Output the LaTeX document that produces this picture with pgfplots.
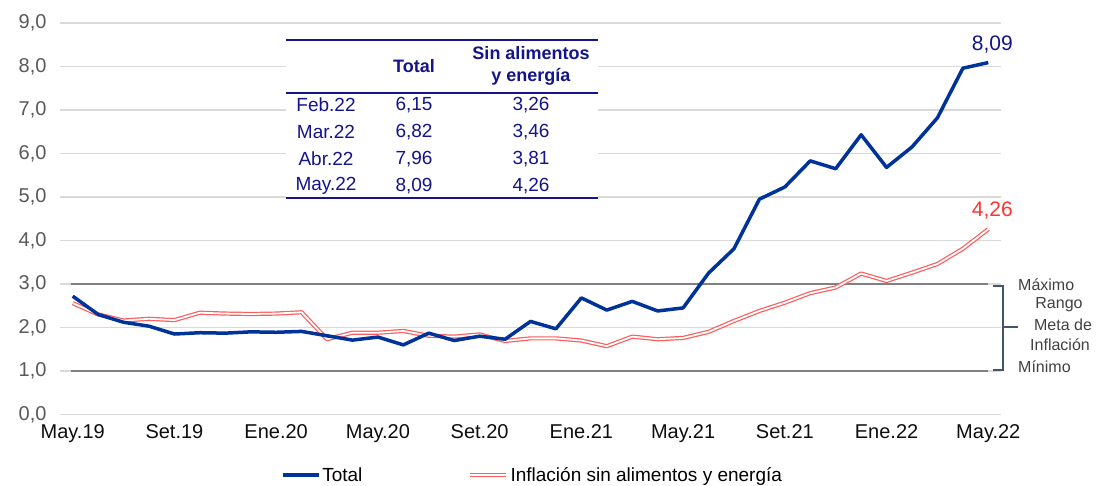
\documentclass[border=0pt]{standalone}
\usepackage{fontspec}
\setmainfont{Liberation Sans}
\usepackage{pgfplots}
\pgfplotsset{compat=1.18}
\definecolor{totalblue}{RGB}{0,51,153}
\definecolor{corered}{RGB}{255,90,90}
\definecolor{refgray}{RGB}{128,128,128}
\definecolor{gridgray}{RGB}{217,217,217}
\definecolor{ylab}{RGB}{89,89,89}
\definecolor{navy}{RGB}{20,20,140}
\definecolor{labred}{RGB}{255,51,51}
\definecolor{brack}{RGB}{68,84,106}
\definecolor{annot}{RGB}{64,64,64}
\pgfplotstableread{
x total core
0 2.72 2.56
1 2.30 2.30
2 2.12 2.16
3 2.03 2.20
4 1.85 2.17
5 1.88 2.34
6 1.87 2.32
7 1.90 2.31
8 1.89 2.32
9 1.91 2.35
10 1.81 1.73
11 1.71 1.88
12 1.78 1.88
13 1.60 1.92
14 1.87 1.81
15 1.70 1.79
16 1.80 1.84
17 1.73 1.69
18 2.14 1.75
19 1.97 1.75
20 2.68 1.70
21 2.40 1.57
22 2.60 1.79
23 2.38 1.73
24 2.45 1.76
25 3.25 1.90
26 3.81 2.15
27 4.95 2.38
28 5.23 2.57
29 5.83 2.79
30 5.65 2.92
31 6.43 3.24
32 5.68 3.07
33 6.15 3.26
34 6.82 3.46
35 7.96 3.81
36 8.09 4.26
}\datatable
\begin{document}
\begin{tikzpicture}[x=1pt,y=1pt]
\useasboundingbox (0,0) rectangle (1097,486);
\begin{axis}[
  at={(60pt,71.5pt)}, anchor=south west,
  scale only axis, width=941pt, height=391.5pt,
  xmin=-0.5, xmax=36.5, ymin=0, ymax=9,
  axis line style={draw=none},
  major tick length=0pt,
  clip=false,
  ymajorgrids, grid style={gridgray, line width=1.3pt},
  ytick={0,1,...,9},
  yticklabels={{0,0},{1,0},{2,0},{3,0},{4,0},{5,0},{6,0},{7,0},{8,0},{9,0}},
  yticklabel style={font=\fontsize{20}{24}\selectfont, text=ylab, xshift=-10pt},
  xtick={0,4,...,36},
  xticklabels={May.19,Set.19,Ene.20,May.20,Set.20,Ene.21,May.21,Set.21,Ene.22,May.22},
  xticklabel style={font=\fontsize{20}{24}\selectfont, text=black!95, yshift=-7pt},
  legend image code/.code={\draw[#1] (0pt,0pt) -- (36pt,0pt);},
  legend style={draw=none, fill=none, at={(0.502,-0.1545)}, anchor=center,
    font=\fontsize{19}{22}\selectfont, /tikz/every even column/.append style={column sep=104pt}},
  legend columns=2,
]
\addplot[refgray, line width=2pt, forget plot] coordinates {(-0.08,3) (36,3)};
\addplot[refgray, line width=2pt, forget plot] coordinates {(-0.08,1) (36,1)};
\addplot[corered, line width=1.2pt, double=white, double distance=1.8pt, line join=round, forget plot] table[x=x,y=core]{\datatable};
\addplot[totalblue, line width=3.5pt, line join=round] table[x=x,y=total]{\datatable};
\addlegendentry{Total}
\addlegendimage{corered, line width=1.2pt, double=white, double distance=1.8pt}
\addlegendentry{Inflación sin alimentos y energía}
\node[anchor=south, text=navy, font=\fontsize{21}{24}\selectfont, xshift=4pt, yshift=6pt] at (axis cs:36,8.09) {8,09};
\node[anchor=south, text=labred, font=\fontsize{21}{24}\selectfont, xshift=4pt, yshift=6pt] at (axis cs:36,4.26) {4,26};
\end{axis}
% table
\fill[white] (286,447) rectangle (598,287);
\draw[navy, line width=2pt] (286,446) -- (598,446);
\draw[navy, line width=2pt] (286,393) -- (598,393);
\draw[navy, line width=2pt] (286,288) -- (598,288);
\begin{scope}[every node/.style={text=navy, font=\fontsize{19}{22}\selectfont, anchor=center, inner sep=0pt}]
\node[font=\fontsize{18}{21}\selectfont\bfseries] at (414,420) {Total};
\node[font=\fontsize{18}{21}\selectfont\bfseries] at (531,433) {Sin alimentos};
\node[font=\fontsize{18}{21}\selectfont\bfseries] at (531,409) {y energía};
\node at (326,381) {Feb.22}; \node at (414,381) {6,15}; \node at (531,381) {3,26};
\node at (326,354) {Mar.22}; \node at (414,354) {6,82}; \node at (531,354) {3,46};
\node at (326,327) {Abr.22}; \node at (414,327) {7,96}; \node at (531,327) {3,81};
\node at (326,300) {May.22}; \node at (414,300) {8,09}; \node at (531,300) {4,26};
\end{scope}
% bracket
\draw[brack, line width=1.5pt] (993,200) -- (1003,200) -- (1003,116) -- (993,116);
\draw[brack, line width=1.5pt] (1003,159) -- (1018,159);
\begin{scope}[every node/.style={text=annot, font=\fontsize{16}{19}\selectfont, inner sep=0pt}]
\node[anchor=west] at (1018,201) {Máximo};
\node at (1059,181) {Rango};
\node at (1063,161) {Meta de};
\node at (1060,141) {Inflación};
\node[anchor=west] at (1018,119) {Mínimo};
\end{scope}
\end{tikzpicture}
\end{document}
